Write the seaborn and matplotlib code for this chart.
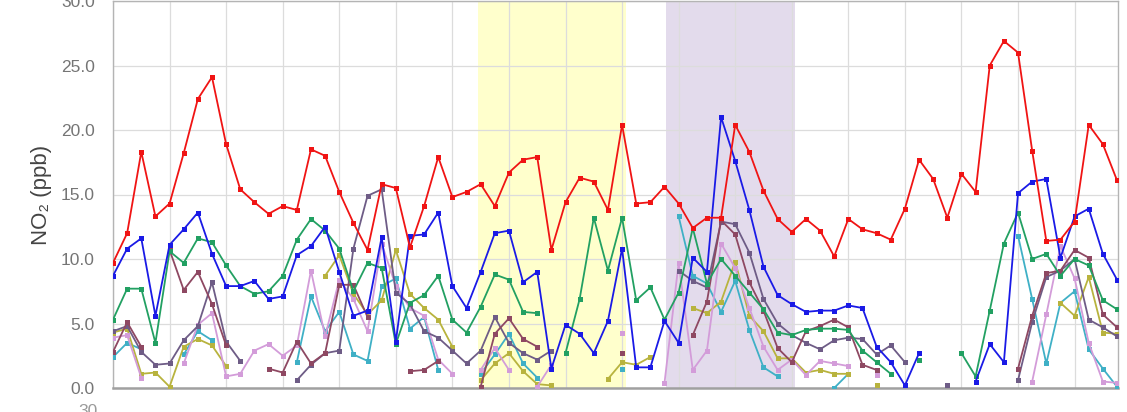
import numpy as np
import pandas as pd
import seaborn as sns
import matplotlib.pyplot as plt

nan = np.nan

# daily NO2 (ppb), one list per station, nan = no data that day
red = [9.7, 12.0, 18.3, 13.3, 14.3, 18.2, 22.4, 24.1, 18.9, 15.4,
       14.4, 13.5, 14.1, 13.8, 18.5, 18.0, 15.2, 12.8, 10.7, 15.8,
       15.5, 10.9, 14.1, 17.9, 14.8, 15.2, 15.8, 14.1, 16.7, 17.7,
       17.9, 10.7, 14.4, 16.3, 16.0, 13.8, 20.4, 14.3, 14.4, 15.6,
       14.3, 12.4, 13.2, 13.2, 20.4, 18.3, 15.3, 13.1, 12.1, 13.1,
       12.2, 10.2, 13.1, 12.3, 12.0, 11.5, 13.9, 17.7, 16.2, 13.2,
       16.6, 15.2, 25.0, 26.9, 26.0, 18.4, 11.4, 11.5, 12.9, 20.4,
       18.9, 16.1]
blue = [8.7, 10.8, 11.6, 5.6, 11.1, 12.3, 13.6, 10.4, 7.9, 7.9,
        8.3, 6.9, 7.1, 10.3, 11.0, 12.5, 9.0, 5.6, 6.0, 11.7,
        3.6, 11.8, 11.9, 13.6, 7.9, 6.2, 9.0, 12.0, 12.2, 8.2,
        9.0, 1.5, 4.9, 4.2, 2.7, 5.2, 10.8, 1.6, 1.6, 5.2,
        3.5, 10.1, 9.0, 21.0, 17.6, 13.8, 9.4, 7.2, 6.5, 5.9,
        6.0, 6.0, 6.4, 6.2, 3.2, 2.0, 0.2, 2.7, nan, nan,
        nan, 0.5, 3.4, 2.0, 15.1, 16.0, 16.2, 10.1, 13.3, 13.9,
        10.4, 8.4]
green = [5.3, 7.7, 7.7, 3.5, 10.6, 9.7, 11.6, 11.3, 9.5, 7.9,
         7.3, 7.5, 8.7, 11.5, 13.1, 12.2, 10.8, 7.5, 9.7, 9.3,
         3.4, 6.6, 7.2, 8.7, 5.3, 4.3, 6.3, 8.8, 8.4, 5.9,
         5.8, nan, 2.7, 6.9, 13.2, 9.1, 13.2, 6.8, 7.8, 5.3,
         7.4, 12.4, 8.1, 10.0, 8.7, 7.4, 6.1, 4.3, 4.1, 4.5,
         4.6, 4.6, 4.5, 2.9, 2.0, 1.1, nan, 2.2, nan, nan,
         2.7, 0.9, 6.0, 11.2, 13.6, 10.0, 10.4, 8.7, 10.0, 9.5,
         6.8, 6.1]
cyan = [2.4, 3.5, 3.0, nan, nan, 2.6, 4.4, 3.7, nan, nan,
        nan, nan, nan, 2.0, 7.1, 4.4, 5.9, 2.6, 2.1, 7.9,
        8.5, 4.6, 5.5, 1.4, nan, nan, 1.1, 2.6, 4.2, 1.9,
        0.8, nan, nan, nan, nan, nan, 1.5, nan, nan, nan,
        13.3, 8.7, 8.1, 5.9, 8.3, 4.5, 1.6, 0.9, nan, nan,
        nan, 0.0, 1.1, nan, nan, nan, nan, nan, nan, nan,
        nan, nan, nan, nan, 11.8, 6.9, 1.9, 6.6, 7.5, 3.0,
        1.5, 0.1]
olive = [4.3, 4.6, 1.1, 1.2, 0.1, 3.2, 3.8, 3.3, 1.7, nan,
         nan, nan, nan, nan, nan, 8.7, 10.3, 7.3, 5.7, 6.8,
         10.7, 7.3, 6.2, 5.3, 3.2, nan, 0.6, 1.9, 2.7, 1.3,
         0.3, 0.2, nan, nan, nan, 0.7, 2.0, 1.8, 2.4, nan,
         nan, 6.2, 5.8, 6.7, 9.8, 5.6, 4.4, 2.3, 2.3, 1.2,
         1.4, 1.1, 1.1, nan, 0.2, nan, nan, nan, nan, nan,
         nan, nan, nan, nan, nan, nan, nan, 6.6, 5.6, 8.6,
         4.3, 4.2]
pink = [3.9, 4.1, 0.8, nan, nan, 1.9, 4.9, 5.8, 0.9, 1.1,
        2.9, 3.4, 2.5, 3.3, 9.1, 4.0, 8.4, 6.9, 4.4, 11.2,
        7.9, 6.2, 5.6, 2.2, 1.1, nan, 1.4, 3.1, 1.4, nan,
        0.1, 1.8, nan, nan, nan, nan, 4.3, nan, nan, 0.4,
        9.7, 1.4, 2.9, 11.2, 9.3, 6.2, 3.2, 1.4, 2.2, 1.0,
        2.1, 1.9, 1.7, nan, 1.0, nan, nan, nan, nan, nan,
        nan, nan, nan, nan, nan, 0.5, 5.7, 11.0, 8.5, 3.5,
        0.5, 0.4]
maroon = [2.8, 5.1, 3.2, nan, 10.7, 7.6, 9.0, 6.5, 3.3, nan,
          nan, 1.5, 1.2, 3.6, 1.9, 2.7, 8.0, 8.0, 5.5, nan,
          nan, 1.3, 1.4, 2.1, nan, nan, 0.1, 4.2, 5.4, 3.8,
          3.2, nan, nan, nan, nan, nan, 2.7, nan, nan, nan,
          nan, 4.1, 6.7, 13.0, 11.9, 8.2, 6.0, 3.1, 2.0, 4.4,
          4.8, 5.3, 4.7, 1.8, 1.4, nan, nan, nan, nan, nan,
          nan, nan, nan, nan, 1.5, 5.6, 8.9, 9.1, 10.7, 10.1,
          5.7, 4.7]
dpurple = [4.4, 4.8, 2.8, 1.8, 1.9, 3.7, 4.8, 8.2, 3.6, 2.1,
           nan, nan, nan, 0.6, 1.8, 2.7, 2.9, 10.8, 14.9, 15.4,
           7.4, 6.5, 4.4, 3.9, 2.9, 1.9, 2.9, 5.5, 3.5, 2.7,
           2.2, 2.9, nan, nan, nan, nan, nan, nan, nan, nan,
           9.1, 8.3, 7.8, 12.9, 12.7, 10.5, 6.9, 5.0, 4.1, 3.5,
           3.0, 3.7, 3.9, 3.8, 2.6, 3.3, 2.0, nan, nan, 0.2,
           nan, nan, nan, nan, 0.6, 5.1, 8.6, 9.1, 10.0, 5.3,
           4.7, 4.0]

# shaded event periods (in day units)
event_yellow = (25.8, 36.3)
event_purple = (39.1, 48.2)

y_ticks = [0, 5, 10, 15, 20, 25, 30]

palette = {
    'cyan': '#3fb0c6',
    'olive': '#b8b33e',
    'pink': '#d39cd9',
    'dpurple': '#6e5c86',
    'maroon': '#8e4862',
    'green': '#22a062',
    'blue': '#1a1ae6',
    'red': '#f01414',
}


def to_long(name, values):
    s = pd.Series(values, dtype=float)
    seg = s.isna().cumsum()
    df = pd.DataFrame({'day': np.arange(len(s)), 'no2': s, 'station': name,
                       'seg': name + '_' + seg.astype(str)})
    return df.dropna(subset=['no2'])


def main():
    series = {'cyan': cyan, 'olive': olive, 'pink': pink, 'dpurple': dpurple,
              'maroon': maroon, 'green': green, 'blue': blue, 'red': red}
    data = pd.concat([to_long(k, v) for k, v in series.items()], ignore_index=True)

    sns.set_style('white')
    plt.rcParams['font.family'] = ['Liberation Sans', 'DejaVu Sans']

    fig = plt.figure(figsize=(11.27, 4.12), dpi=100)
    ax = fig.add_axes([113 / 1127, 24 / 412, 1005 / 1127, 387 / 412])

    ax.axvspan(*event_yellow, color='#ffffcc', lw=0, zorder=0)
    ax.axvspan(*event_purple, color='#e3dbec', lw=0, zorder=0)

    sns.lineplot(data=data, x='day', y='no2', hue='station', units='seg',
                 estimator=None, hue_order=list(series.keys()), palette=palette,
                 marker='s', markersize=3.6, markeredgewidth=0, linewidth=1.3,
                 legend=False, ax=ax, zorder=3)

    n = len(red)
    ax.set_xlim(0, n - 1 + 0.07)
    ax.set_ylim(0, 30)
    ax.set_xticks(np.arange(0, n, 4))
    ax.set_xticklabels([])
    ax.set_yticks(y_ticks)
    ax.set_yticklabels([f'{v:.1f}' for v in y_ticks])
    ax.tick_params(length=0, labelsize=12.5, labelcolor='#757575', pad=13)
    ax.grid(True, color='#dcdcdc', lw=0.9, zorder=1)
    ax.set_axisbelow(True)
    for side in ['top', 'right', 'left']:
        ax.spines[side].set_color('#b4b4b4')
        ax.spines[side].set_linewidth(1.0)
    ax.spines['bottom'].set_color('#a0a0a0')
    ax.spines['bottom'].set_linewidth(1.8)

    ax.set_xlabel('')
    ax.set_ylabel('NO₂ (ppb)', fontsize=16, color='#444444')
    ax.yaxis.set_label_coords(-0.061, 0.5)

    # top of the next chart's axis label peeking in at the bottom
    fig.text(98 / 1127, 1 - 404 / 412, '30', ha='right', va='top',
             fontsize=12.5, color='#9a9a9a')

    fig.savefig('out.png', dpi=100)
    plt.close(fig)


if __name__ == '__main__':
    main()
